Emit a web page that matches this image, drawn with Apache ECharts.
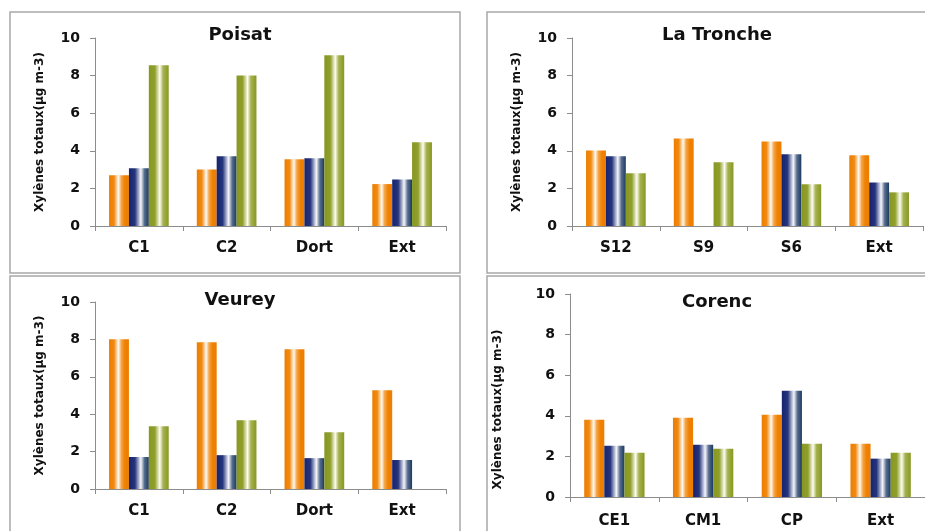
<!DOCTYPE html>
<html><head><meta charset="utf-8">
<script src="https://cdn.jsdelivr.net/npm/echarts@6/dist/echarts.min.js"></script>
<style>html,body{margin:0;padding:0;background:#fff}#c{width:925px;height:531px}</style>
</head><body><div id="c"></div>
<script>
// ---- data ----
var panelTitles = ['Poisat', 'La Tronche', 'Veurey', 'Corenc'];
var yTitle = 'Xylènes totaux(µg m-3)';
var yTicks = [0, 2, 4, 6, 8, 10];

var poisatCats = ['C1', 'C2', 'Dort', 'Ext'];
var poisatA = [2.70, 3.01, 3.55, 2.23];
var poisatB = [3.07, 3.71, 3.60, 2.48];
var poisatC = [8.55, 8.01, 9.08, 4.45];

var troncheCats = ['S12', 'S9', 'S6', 'Ext'];
var troncheA = [4.02, 4.66, 4.50, 3.76];
var troncheB = [3.71, null, 3.81, 2.32];
var troncheC = [2.80, 3.39, 2.22, 1.79];

var veureyCats = ['C1', 'C2', 'Dort', 'Ext'];
var veureyA = [8.01, 7.85, 7.47, 5.28];
var veureyB = [1.71, 1.81, 1.65, 1.55];
var veureyC = [3.36, 3.68, 3.04, null];

var corencCats = ['CE1', 'CM1', 'CP', 'Ext'];
var corencA = [3.80, 3.90, 4.05, 2.62];
var corencB = [2.52, 2.57, 5.23, 1.89];
var corencC = [2.18, 2.38, 2.62, 2.18];

// ---- styles ----
var FONT = 'DejaVu Sans';
function grad(stops) {
  return new echarts.graphic.LinearGradient(0, 0, 1, 0, stops.map(function (s) { return { offset: s[0], color: s[1] }; }));
}
var orangeFill = grad([[0, '#EE7D00'], [0.25, '#F08A10'], [0.47, '#FFFAF2'], [0.62, '#F5A445'], [0.8, '#EF8000'], [1, '#EE7D00']]);
var navyFill = grad([[0, '#172470'], [0.3, '#25357C'], [0.6, '#F6F7FA'], [0.78, '#566C8E'], [1, '#1B3A5E']]);
var greenFill = grad([[0, '#879820'], [0.3, '#909F2C'], [0.55, '#FDFDF2'], [0.72, '#A6B250'], [1, '#879820']]);

var grids = [
  { left: 95, top: 38, width: 351, height: 188 },
  { left: 572, top: 38, width: 351, height: 188 },
  { left: 95, top: 302, width: 351, height: 187 },
  { left: 570, top: 294, width: 356, height: 203 }
];
var cats = [poisatCats, troncheCats, veureyCats, corencCats];
var dataSets = [
  [poisatA, poisatB, poisatC],
  [troncheA, troncheB, troncheC],
  [veureyA, veureyB, veureyC],
  [corencA, corencB, corencC]
];
var titlePos = [[235, 21], [712, 21], [235, 286], [712, 288]];
var nameGaps = [49, 49, 49, 66];
var xMargins = [15, 15, 15, 17];
var axisColor = '#8c8c8c';

var option = {
  animation: false,
  backgroundColor: '#fff',
  title: panelTitles.map(function (t, i) {
    return { text: t, left: titlePos[i][0], top: titlePos[i][1], textAlign: 'center',
      textStyle: { fontFamily: FONT, fontWeight: 'bold', fontSize: 18, color: '#111' } };
  }),
  grid: grids,
  xAxis: cats.map(function (c, i) {
    return { type: 'category', gridIndex: i, data: c,
      axisLine: { lineStyle: { color: axisColor, width: 1 } },
      axisTick: { show: true, length: 5, lineStyle: { color: axisColor } },
      axisLabel: { margin: xMargins[i], fontFamily: FONT, fontWeight: 'bold', fontSize: 15, color: '#111' } };
  }),
  yAxis: cats.map(function (c, i) {
    return { type: 'value', gridIndex: i, min: yTicks[0], max: yTicks[yTicks.length - 1], interval: 2,
      name: yTitle, nameLocation: 'middle', nameRotate: 90, nameGap: nameGaps[i],
      nameTextStyle: { fontFamily: FONT, fontWeight: 'bold', fontSize: 12, color: '#111',
        padding: i === 3 ? [0, 28, 0, 0] : 0 },
      axisLine: { show: true, lineStyle: { color: axisColor, width: 1 } },
      axisTick: { show: true, length: 5, lineStyle: { color: axisColor } },
      splitLine: { show: false },
      axisLabel: { margin: 15, fontFamily: FONT, fontWeight: 'bold', fontSize: 14, color: '#111' } };
  }),
  series: [],
  graphic: [
    { type: 'rect', shape: { x: 10, y: 12, width: 450, height: 261 }, style: { fill: 'none', stroke: '#a8a8a8', lineWidth: 1.5 } },
    { type: 'rect', shape: { x: 487, y: 12, width: 450, height: 261 }, style: { fill: 'none', stroke: '#a8a8a8', lineWidth: 1.5 } },
    { type: 'rect', shape: { x: 10, y: 276, width: 450, height: 270 }, style: { fill: 'none', stroke: '#a8a8a8', lineWidth: 1.5 } },
    { type: 'rect', shape: { x: 487, y: 276, width: 450, height: 270 }, style: { fill: 'none', stroke: '#a8a8a8', lineWidth: 1.5 } }
  ]
};
var fills = [orangeFill, navyFill, greenFill];
dataSets.forEach(function (set, i) {
  set.forEach(function (vals, k) {
    option.series.push({ type: 'bar', xAxisIndex: i, yAxisIndex: i, data: vals,
      barGap: '0%', barCategoryGap: '32%', itemStyle: { color: fills[k] } });
  });
});
var chart = echarts.init(document.getElementById('c'), null, { renderer: 'canvas' });
chart.setOption(option);
</script></body></html>
